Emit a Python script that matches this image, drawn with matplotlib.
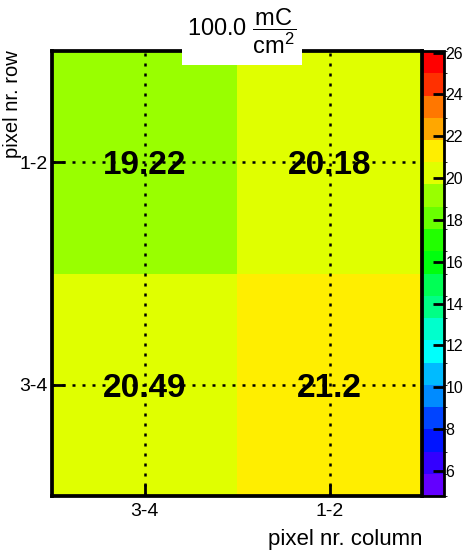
import colorsys
import numpy as np
import matplotlib
matplotlib.use("Agg")
import matplotlib.pyplot as plt
from matplotlib.colors import ListedColormap, BoundaryNorm
from matplotlib.patches import Rectangle

plt.rcParams['font.family'] = ['Liberation Sans', 'DejaVu Sans']
plt.rcParams['mathtext.fontset'] = 'custom'
plt.rcParams['mathtext.rm'] = 'Liberation Sans'
plt.rcParams['mathtext.it'] = 'Liberation Sans'

# ── dati ─────────────────────────────────────────────────────
col_labels = ['3-4', '1-2']          # x, sinistra -> destra
row_labels = ['3-4', '1-2']          # y, basso -> alto
row_34 = [20.49, 21.2]
row_12 = [19.22, 20.18]
z_min, z_max = 4.8, 26.08
n_cont = 20
cbar_ticks = [6, 8, 10, 12, 14, 16, 18, 20, 22, 24, 26]
# ─────────────────────────────────────────────────────────────

z = np.array([row_34, row_12])

# palette "pretty" (viola -> rosso), 20 livelli
cols = []
for k in range(n_cont):
    j = int((k + 0.99) * 50 / n_cont)
    hue = 280 - (j + 1) * 5.6
    cols.append(colorsys.hls_to_rgb(hue / 360.0, 0.5, 1.0))
cmap = ListedColormap(cols)
levels = np.linspace(z_min, z_max, n_cont + 1)
norm = BoundaryNorm(levels, cmap.N)

W, H = 469, 551
fig = plt.figure(figsize=(W / 100, H / 100), dpi=100)
ax = fig.add_axes([52 / W, 1 - 496 / H, 370 / W, 445 / H])
cax = fig.add_axes([422 / W, 1 - 496 / H, 22 / W, 445 / H])

xe = np.arange(len(col_labels) + 1)
ye = np.arange(len(row_labels) + 1)
mesh = ax.pcolormesh(xe, ye, z, cmap=cmap, norm=norm)

xc = xe[:-1] + 0.5
yc = ye[:-1] + 0.5
for iy in range(len(row_labels)):
    for ix in range(len(col_labels)):
        ax.text(xc[ix], yc[iy], f"{z[iy, ix]:g}", ha='center', va='center_baseline',
                fontsize=24, fontweight='bold', color='black', zorder=3)

for x in xc:
    ax.axvline(x, color='black', lw=1.8, ls=(0, (1.2, 2.8)), zorder=5)
for y in yc:
    ax.axhline(y, color='black', lw=1.8, ls=(0, (1.2, 2.8)), zorder=5)

ax.set_xlim(xe[0], xe[-1])
ax.set_ylim(ye[0], ye[-1])
ax.set_xticks(xc)
ax.set_xticklabels(col_labels, fontsize=14)
ax.set_yticks(yc)
ax.set_yticklabels(row_labels, fontsize=14)
ax.tick_params(direction='in', length=9, width=2)
ax.tick_params(axis='x', pad=5)
ax.tick_params(axis='y', pad=3)
for sp in ax.spines.values():
    sp.set_linewidth(2.7)

cb = fig.colorbar(mesh, cax=cax, ticks=cbar_ticks)
cb.outline.set_linewidth(2)
cax.tick_params(direction='in', length=8, width=2, labelsize=11.5, pad=1)

fig.text(13 / W, 1 - 50 / H, 'pixel nr. row', rotation=90, ha='center', va='top',
         fontsize=14.5)
fig.text(422 / W, 1 - 540 / H, 'pixel nr. column', ha='right', va='center',
         fontsize=16)

# box del titolo
fig.add_artist(Rectangle((182 / W, 1 - 65 / H), 120 / W, 65 / H,
                         transform=fig.transFigure, facecolor='white',
                         edgecolor='none', zorder=10))
fig.text(242 / W, 1 - 31 / H, r'100.0 $\dfrac{\mathrm{mC}}{\mathrm{cm}^{2}}$',
         ha='center', va='center', fontsize=17, zorder=11)

fig.savefig('out.png', dpi=100)
